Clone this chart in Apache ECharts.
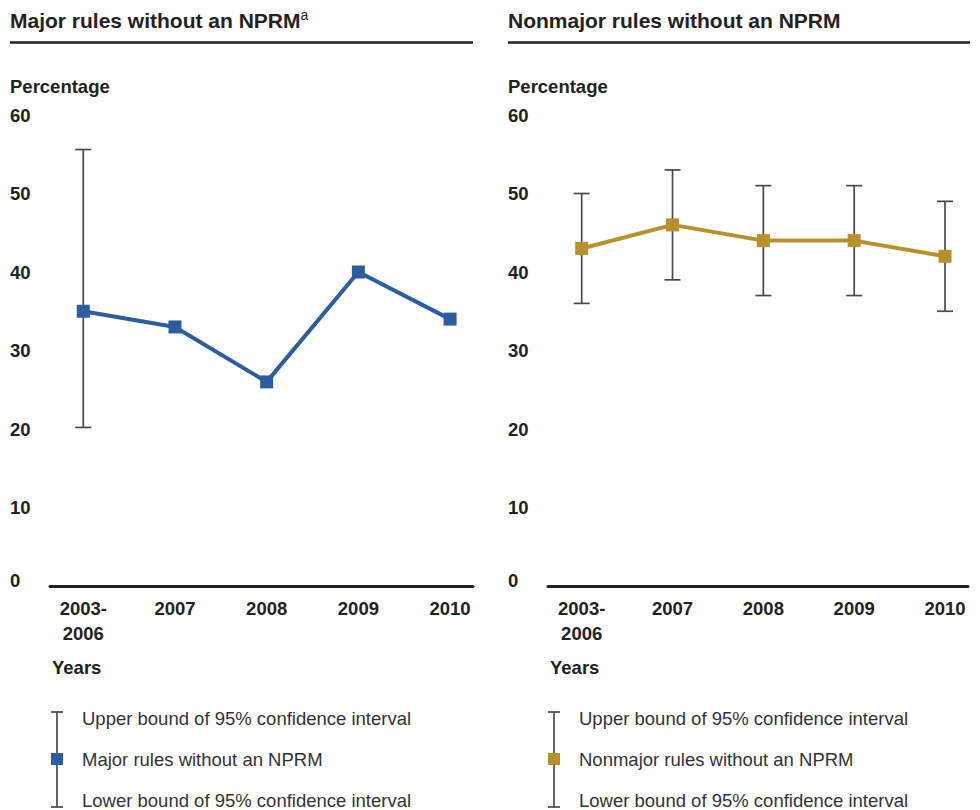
<!DOCTYPE html>
<html>
<head>
<meta charset="utf-8">
<script src="https://cdn.jsdelivr.net/npm/echarts@6/dist/echarts.min.js"></script>
<style>
html,body{margin:0;padding:0;background:#fff;}
#chart{width:980px;height:810px;}
</style>
</head>
<body>
<div id="chart"></div>
<script>
// ---- Data ----
const categories = ['2003-\n2006', '2007', '2008', '2009', '2010'];
const majorValues = [35, 33, 26, 40, 34];
const majorUpper = [55.6, null, null, null, null];
const majorLower = [20.2, null, null, null, null];
const nonmajorValues = [43, 46, 44, 44, 42];
const nonmajorUpper = [50, 53, 51, 51, 49];
const nonmajorLower = [36, 39, 37, 37, 35];
const yTickValues = [0, 10, 20, 30, 40, 50, 60];

const FONT = 'Liberation Sans, Arial, Helvetica, sans-serif';
const BLUE = '#2b5d9f';
const GOLD = '#b8902c';
const DARK = '#222';
const BAR = '#4a4a4a';
const FS = 18.5;

function pointData(vals) { return vals.map((v, i) => [i, v]); }
function errData(lo, hi) {
  const out = [];
  for (let i = 0; i < lo.length; i++) {
    if (lo[i] != null && hi[i] != null) out.push([i, lo[i], hi[i]]);
  }
  return out;
}
function renderErr(params, api) {
  const x = api.value(0), lo = api.value(1), hi = api.value(2);
  const t = api.coord([x, hi]);
  const b = api.coord([x, lo]);
  const w = 8;
  const st = { stroke: BAR, lineWidth: 1.7 };
  return {
    type: 'group',
    children: [
      { type: 'line', shape: { x1: t[0], y1: t[1], x2: b[0], y2: b[1] }, style: st },
      { type: 'line', shape: { x1: t[0] - w, y1: t[1], x2: t[0] + w, y2: t[1] }, style: st },
      { type: 'line', shape: { x1: b[0] - w, y1: b[1], x2: b[0] + w, y2: b[1] }, style: st }
    ]
  };
}

function xAxisCfg(idx, min, max) {
  return {
    gridIndex: idx, type: 'value', min: min, max: max,
    axisLine: { show: true, onZero: false, lineStyle: { color: DARK, width: 3 } },
    axisTick: { show: false },
    splitLine: { show: false },
    axisLabel: {
      customValues: [0, 1, 2, 3, 4],
      formatter: v => categories[Math.round(v)],
      fontFamily: FONT, fontWeight: 'bold', fontSize: FS, color: DARK,
      lineHeight: 25, margin: 10
    }
  };
}
function yAxisCfg(idx) {
  return {
    gridIndex: idx, type: 'value', min: 0, max: 60, interval: 10,
    axisLine: { show: false }, axisTick: { show: false }, splitLine: { show: false },
    axisLabel: {
      customValues: yTickValues,
      formatter: v => (v === 0 ? '{z|0}' : String(v)),
      rich: { z: { fontFamily: FONT, fontWeight: 'bold', fontSize: FS, color: DARK, padding: [0, 0, 12, 0] } },
      align: 'left', margin: 40,
      fontFamily: FONT, fontWeight: 'bold', fontSize: FS, color: DARK
    }
  };
}

function legend(x, color, label) {
  const st = { stroke: BAR, lineWidth: 1.7 };
  const tx = x + 25;
  const ts = (t, y) => ({ type: 'text', x: tx, y: y, style: { text: t, fontFamily: FONT, fontSize: FS, fill: '#333', verticalAlign: 'middle' } });
  return [
    { type: 'line', shape: { x1: x, y1: 712, x2: x, y2: 807 }, style: st },
    { type: 'line', shape: { x1: x - 6, y1: 712, x2: x + 6, y2: 712 }, style: st },
    { type: 'line', shape: { x1: x - 6, y1: 807, x2: x + 6, y2: 807 }, style: st },
    { type: 'rect', shape: { x: x - 6, y: 753, width: 12, height: 12 }, style: { fill: color } },
    ts('Upper bound of 95% confidence interval', 718),
    ts(label, 759),
    ts('Lower bound of 95% confidence interval', 800)
  ];
}

const chart = echarts.init(document.getElementById('chart'), null, { renderer: 'svg' });
const titleRich = {
  t: { fontFamily: FONT, fontSize: 21, fontWeight: 'bold', color: DARK, lineHeight: 24 },
  s: { fontFamily: FONT, fontSize: 14, fontWeight: 'normal', color: DARK, verticalAlign: 'top', lineHeight: 14 }
};
const boldText = (t, x, y) => ({ type: 'text', x: x, y: y, style: { text: t, fontFamily: FONT, fontSize: FS, fontWeight: 'bold', fill: DARK, verticalAlign: 'middle' } });
chart.setOption({
  animation: false,
  backgroundColor: '#fff',
  title: [
    { text: '{t|Major rules without an NPRM}{s|a}', left: 10, top: 8, padding: 0, textStyle: { rich: titleRich } },
    { text: '{t|Nonmajor rules without an NPRM}', left: 508, top: 8, padding: 0, textStyle: { rich: titleRich } }
  ],
  grid: [
    { left: 50, right: 507, top: 115, bottom: 224 },
    { left: 548, right: 12, top: 115, bottom: 224 }
  ],
  xAxis: [xAxisCfg(0, -0.363, 4.25), xAxisCfg(1, -0.371, 4.253)],
  yAxis: [yAxisCfg(0), yAxisCfg(1)],
  series: [
    { type: 'custom', xAxisIndex: 0, yAxisIndex: 0, renderItem: renderErr, data: errData(majorLower, majorUpper), z: 1 },
    { type: 'line', xAxisIndex: 0, yAxisIndex: 0, data: pointData(majorValues), symbol: 'rect', symbolSize: 13,
      lineStyle: { color: BLUE, width: 4 }, itemStyle: { color: BLUE }, z: 3 },
    { type: 'custom', xAxisIndex: 1, yAxisIndex: 1, renderItem: renderErr, data: errData(nonmajorLower, nonmajorUpper), z: 1 },
    { type: 'line', xAxisIndex: 1, yAxisIndex: 1, data: pointData(nonmajorValues), symbol: 'rect', symbolSize: 13,
      lineStyle: { color: GOLD, width: 4 }, itemStyle: { color: GOLD }, z: 3 }
  ],
  graphic: [
    { type: 'line', shape: { x1: 10, y1: 42.5, x2: 473, y2: 42.5 }, style: { stroke: DARK, lineWidth: 2.5 } },
    { type: 'line', shape: { x1: 508, y1: 42.5, x2: 970, y2: 42.5 }, style: { stroke: DARK, lineWidth: 2.5 } },
    boldText('Percentage', 10, 86),
    boldText('Percentage', 508, 86),
    boldText('Years', 52, 667),
    boldText('Years', 550, 667)
  ].concat(legend(57, BLUE, 'Major rules without an NPRM'), legend(554, GOLD, 'Nonmajor rules without an NPRM'))
});
</script>
</body>
</html>
